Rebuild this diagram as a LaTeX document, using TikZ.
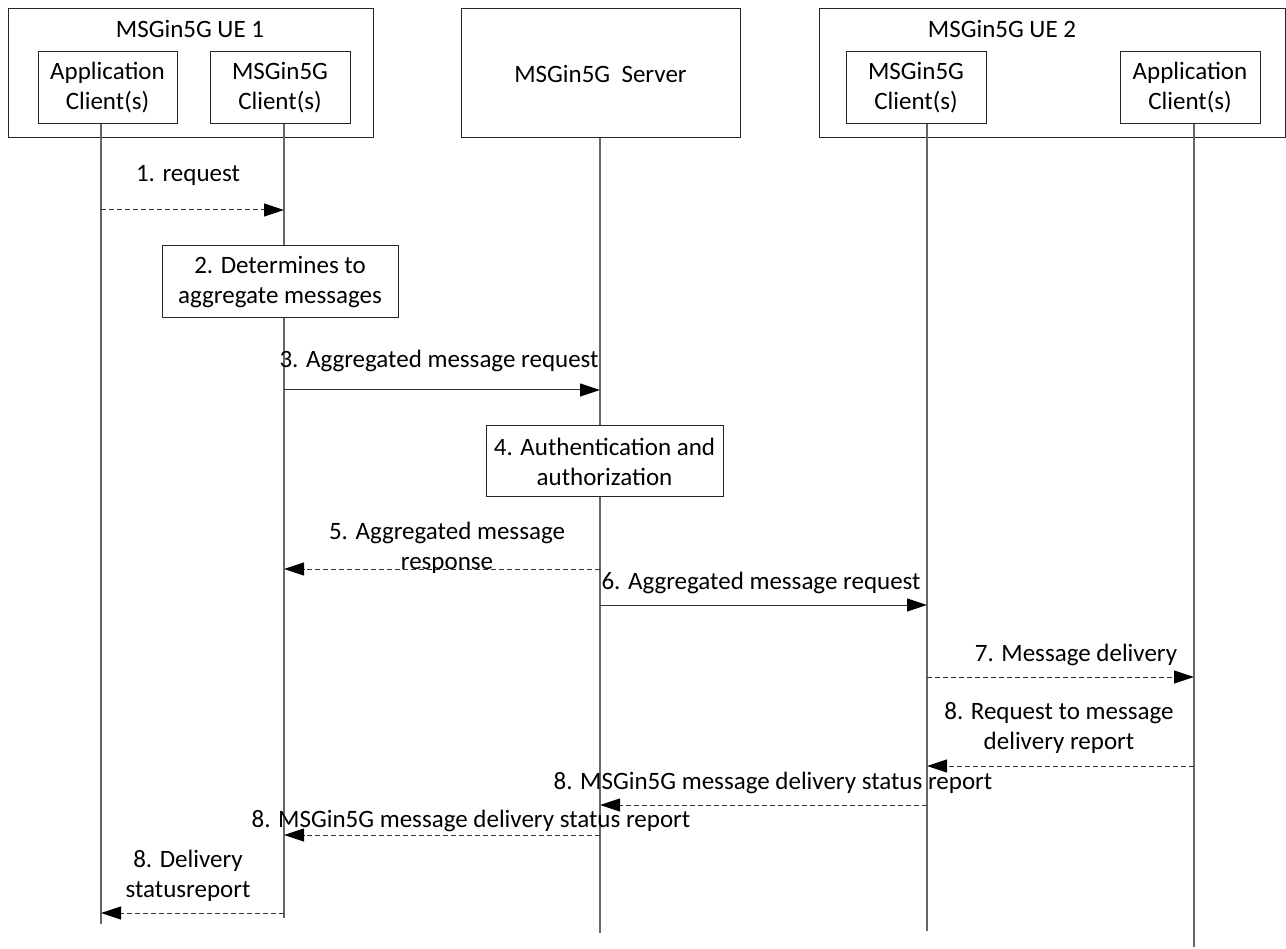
\documentclass[tikz,border=0pt]{standalone}
\usepackage{fontspec}
\setmainfont{Carlito}
\usetikzlibrary{arrows.meta}
\begin{document}
\begin{tikzpicture}[x=1pt,y=-1pt,
  box/.style={draw=black!85, line width=1pt, fill=white, inner sep=0pt, align=center, font=\fontsize{25}{30}\selectfont},
  lbl/.style={inner sep=0pt, align=center, font=\fontsize{25}{30}\selectfont},
  life/.style={draw=black!60, line width=1.2pt},
  msg/.style={draw=black!80, line width=1pt, -{Triangle[length=20pt,width=13pt,color=black]}},
  dmsg/.style={msg, dash pattern=on 5pt off 3pt}]
\useasboundingbox (0,0) rectangle (1286,949);
% outer boxes
\node[box, minimum width=365pt, minimum height=129pt] (ue1) at (190.5,73.5) {};
\node[lbl] (ue1t) at (190,29) {MSGin5G UE 1};
\node[box, minimum width=139pt, minimum height=72pt] (app1) at (107.5,88) {Application\\Client(s)};
\node[box, minimum width=140pt, minimum height=72pt] (msg1) at (280,88) {MSGin5G\\Client(s)};
\node[box, minimum width=279pt, minimum height=129pt] (srv) at (600.5,73.5) {MSGin5G\ \ Server};
\node[box, minimum width=466pt, minimum height=129pt] (ue2) at (1052,73.5) {};
\node[lbl] (ue2t) at (1002,29) {MSGin5G UE 2};
\node[box, minimum width=140pt, minimum height=72pt] (msg2) at (916,88) {MSGin5G\\Client(s)};
\node[box, minimum width=140pt, minimum height=72pt] (app2) at (1190,88) {Application\\Client(s)};
% lifeline coordinates
\coordinate (a1t) at (101,124); \coordinate (a1b) at (101,924);
\coordinate (m1t) at (284,124); \coordinate (m1b) at (284,918);
\coordinate (st) at (600,138);  \coordinate (sb) at (600,933);
\coordinate (m2t) at (927,124); \coordinate (m2b) at (927,931);
\coordinate (a2t) at (1194,124); \coordinate (a2b) at (1194,947);
\draw[life] (a1t) -- (a1b);
\draw[life] (m1t) -- (m1b);
\draw[life] (st) -- (sb);
\draw[life] (m2t) -- (m2b);
\draw[life] (a2t) -- (a2b);
% step boxes
\node[box, minimum width=236pt, minimum height=72pt] (s2) at (280,282) {2. Determines to\\aggregate messages};
\node[box, minimum width=237pt, minimum height=71pt] (s4) at (604.5,461.5) {4. Authentication and\\authorization};
% message points
\coordinate (p1a) at (101,210); \coordinate (p1b) at (284,210);
\coordinate (p3a) at (284,390); \coordinate (p3b) at (600,390);
\coordinate (p5a) at (600,569); \coordinate (p5b) at (284,569);
\coordinate (p6a) at (600,605); \coordinate (p6b) at (927,605);
\coordinate (p7a) at (927,677); \coordinate (p7b) at (1194,677);
\coordinate (p8a) at (1194,766); \coordinate (p8b) at (927,766);
\coordinate (p9a) at (927,805); \coordinate (p9b) at (600,805);
\coordinate (p10a) at (600,835); \coordinate (p10b) at (284,835);
\coordinate (p11a) at (284,913); \coordinate (p11b) at (101,913);
% messages
\draw[dmsg] (p1a) -- (p1b);
\node[lbl] (t1) at (188,175) {1. request};
\draw[msg] (p3a) -- (p3b);
\node[lbl] (t3) at (439,361) {3. Aggregated message request};
\draw[dmsg] (p5a) -- (p5b);
\node[lbl] (t5) at (447,548) {5. Aggregated message\\response};
\draw[msg] (p6a) -- (p6b);
\node[lbl] (t6) at (761,583) {6. Aggregated message request};
\draw[dmsg] (p7a) -- (p7b);
\node[lbl] (t7) at (1076,655) {7. Message delivery};
\draw[dmsg] (p8a) -- (p8b);
\node[lbl] (t8) at (1059,728) {8. Request to message\\delivery report};
\draw[dmsg] (p9a) -- (p9b);
\node[lbl] (t9) at (773,783) {8. MSGin5G message delivery status report};
\draw[dmsg] (p10a) -- (p10b);
\node[lbl] (t10) at (471,821) {8. MSGin5G message delivery status report};
\draw[dmsg] (p11a) -- (p11b);
\node[lbl] (t11) at (188,876) {8. Delivery\\statusreport};
\end{tikzpicture}
\end{document}
